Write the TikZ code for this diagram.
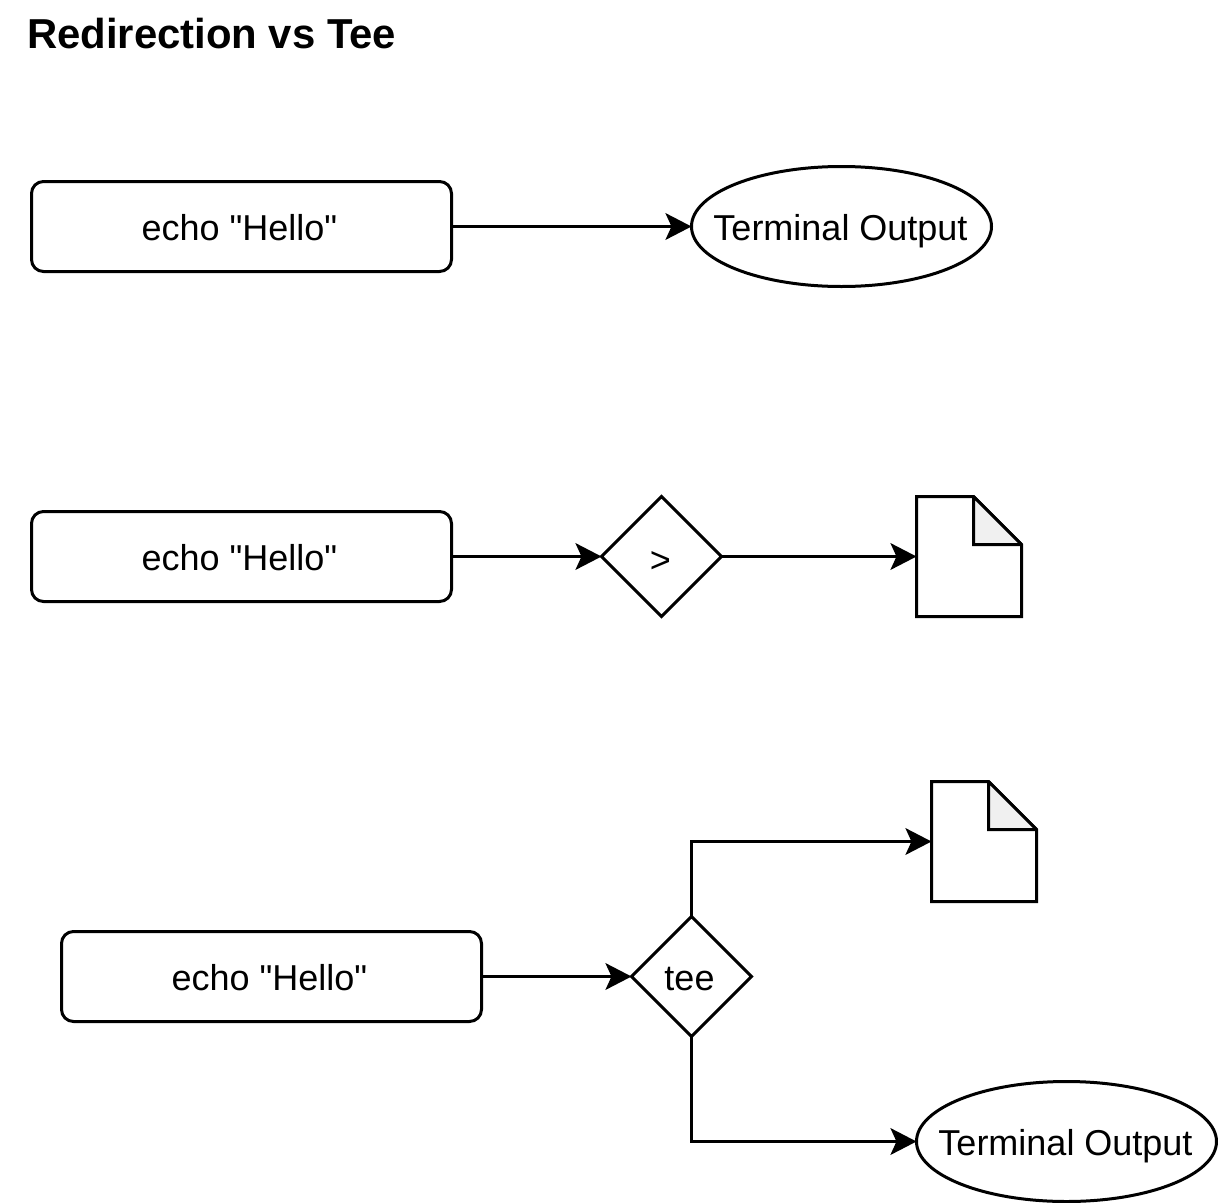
\documentclass[tikz,border=0pt]{standalone}
\usepackage{fontspec}
\setmainfont{Liberation Sans}
\font\rawsans="Liberation Sans" at 27pt
\usetikzlibrary{shapes.geometric,arrows.meta}
\newcommand{\lbl}[3]{\makebox[0pt]{\kern#1\raisebox{-#2}[0pt][0pt]{#3}}}
\tikzset{
  x=0.75pt,y=-0.75pt,
  every node/.style={font=\fontsize{27}{32}\selectfont,inner sep=0pt,outer sep=0pt,line width=2.25pt,draw,minimum width=0pt,text depth=0pt},
  procbox/.style={draw,rounded corners=9pt,minimum width=315pt,minimum height=67.5pt},
  termoval/.style={draw,ellipse,minimum width=225pt,minimum height=90pt},
  gate/.style={draw,diamond,minimum width=90pt,minimum height=90pt,aspect=1},
  filebox/.style={draw=none,minimum width=78.75pt,minimum height=90pt},
  titletext/.style={draw=none,font=\fontsize{31.4}{36}\selectfont\bfseries,anchor=west},
  conn/.style={line width=2.25pt,-{Stealth[length=19.5pt,width=20pt,inset=4.5pt]}}
}
\newcommand{\filefold}[1]{%
  \draw[line width=2.25pt,miter limit=2,fill=white] (#1.north west) -- ([xshift=42.75pt]#1.north west) -- ([yshift=-36pt]#1.north east) -- (#1.south east) -- (#1.south west) -- cycle;
  \draw[line width=2.25pt,miter limit=2,fill=black!6] ([xshift=42.75pt]#1.north west) -- ([xshift=42.75pt,yshift=-36pt]#1.north west) -- ([yshift=-36pt]#1.north east) -- cycle;
}
\newcommand{\echotext}{\lbl{-3pt}{10.35pt}{\rawsans echo "Hello"}}
\newcommand{\termtext}{\lbl{-1.5pt}{10.35pt}{Terminal Output}}
\begin{document}
\begin{tikzpicture}
\useasboundingbox (0,0) rectangle (1218,1203);
\node[titletext] (title) at (27,33) {Redirection vs Tee};

\node[procbox] (a1) at (241.5,226.5) {\echotext};
\node[termoval] (t1) at (841.5,226.5) {\termtext};
\draw[conn] (a1) -- (t1);

\node[procbox] (a2) at (241.5,556.5) {\echotext};
\node[gate] (d2) at (661.5,556.5) {\lbl{-1.5pt}{12pt}{>}};
\node[filebox] (f2) at (969,556.5) {};
\filefold{f2}
\draw[conn] (a2) -- (d2);
\draw[conn] (d2) -- (f2);

\node[procbox] (a3) at (271.5,976.5) {\echotext};
\node[gate] (d3) at (691.5,976.5) {\lbl{-3pt}{10.35pt}{tee}};
\node[filebox] (f3) at (984,841.5) {};
\filefold{f3}
\node[termoval] (t3) at (1066.5,1141.5) {\termtext};
\draw[conn] (a3) -- (d3);
\draw[conn] (d3.north) |- (f3.west);
\draw[conn] (d3.south) |- (t3.west);
\end{tikzpicture}
\end{document}
